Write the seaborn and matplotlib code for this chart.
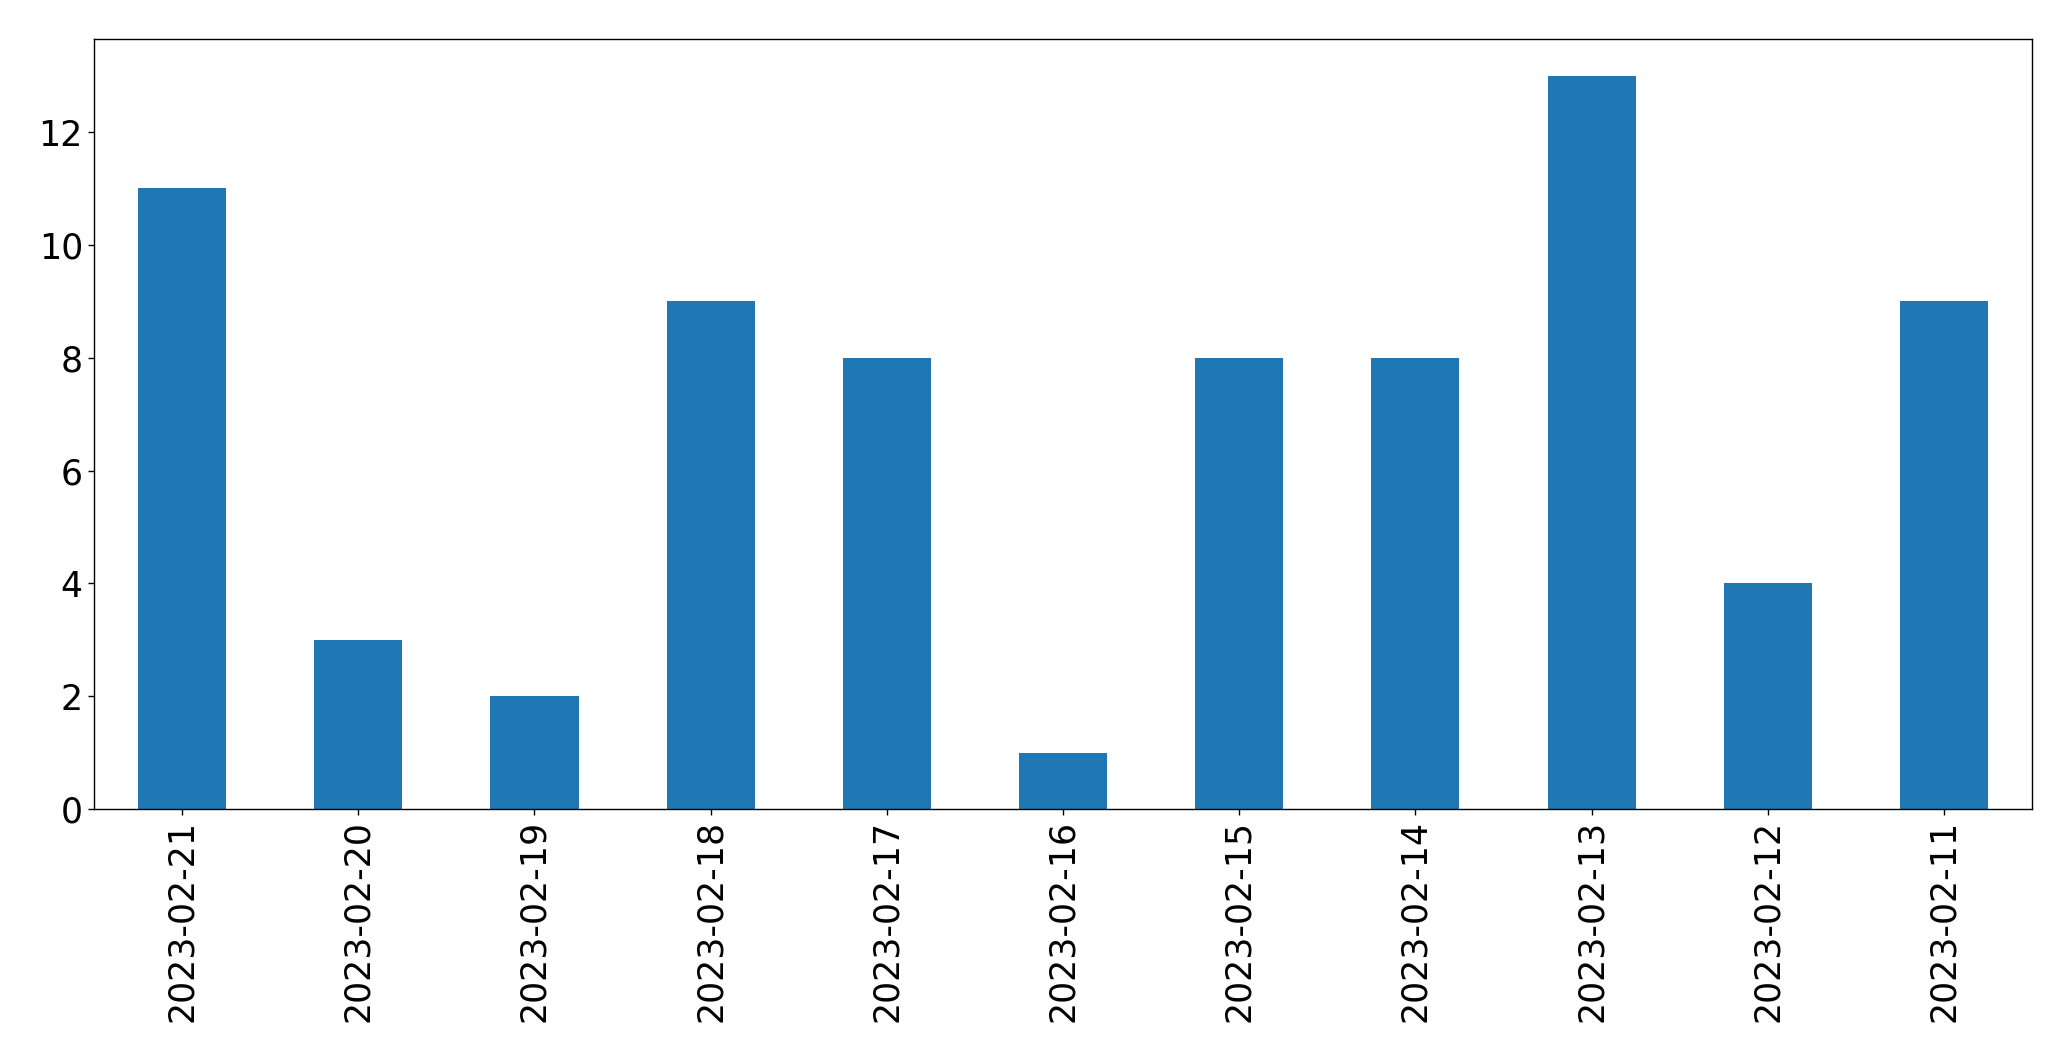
import pandas as pd
import matplotlib
matplotlib.use("Agg")
import matplotlib.pyplot as plt
import seaborn as sns

dates = ["2023-02-21", "2023-02-20", "2023-02-19", "2023-02-18", "2023-02-17",
         "2023-02-16", "2023-02-15", "2023-02-14", "2023-02-13", "2023-02-12",
         "2023-02-11"]
counts = [11, 3, 2, 9, 8, 1, 8, 8, 13, 4, 9]

df = pd.DataFrame({"date": dates, "count": counts})

sns.set_style("ticks", {"axes.edgecolor": "black", "xtick.color": "black",
                        "ytick.color": "black", "text.color": "black"})
plt.rcParams["font.family"] = ["DejaVu Sans"]

fig, ax = plt.subplots(figsize=(20.71, 10.61), dpi=100)
sns.barplot(data=df, x="date", y="count", order=dates, color="#1f77b4",
            saturation=1, width=0.5, linewidth=0, edgecolor="none", ax=ax)

ax.set_xlim(-0.5, len(dates) - 0.5)
ax.set_ylim(0, max(counts) * 1.05)
ax.set_xlabel("")
ax.set_ylabel("")
ax.tick_params(axis="both", labelsize=25, length=4.5, width=1,
               colors="black", labelcolor="black")
ax.tick_params(axis="x", rotation=90)
for s in ax.spines.values():
    s.set_visible(True)
    s.set_linewidth(1)
    s.set_color("black")

fig.subplots_adjust(left=94 / 2071, right=2032 / 2071, top=1 - 39 / 1061, bottom=1 - 809 / 1061)
fig.savefig("out.png", dpi=100)
